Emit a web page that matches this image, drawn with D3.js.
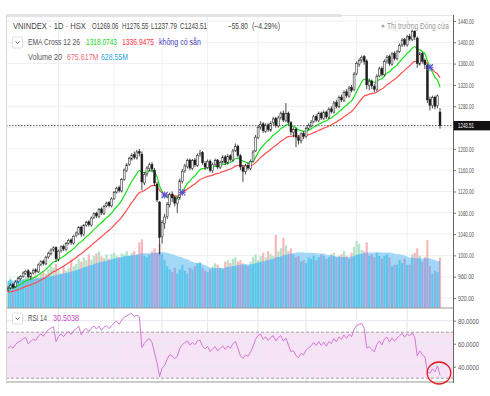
<!DOCTYPE html>
<html>
<head>
<meta charset="utf-8">
<script src="https://cdn.jsdelivr.net/npm/d3@7"></script>
<style>
html, body { margin: 0; padding: 0; background: #fff; }
svg { display: block; font-family: "Liberation Sans", Arial, sans-serif; }
</style>
</head>
<body>
<svg id="chart" width="490" height="396"></svg>
<script>
// daily bars, VNINDEX HSX
const openP = [935,939,945,941,951,956,961,966,971,959,
  967,973,969,983,989,984,997,1003,1011,1015,
  993,1009,1017,1011,1023,1029,1023,1037,1041,1053,
  1039,1057,1063,1057,1071,1079,1073,1087,1079,1093,
  1099,1093,1107,1119,1127,1121,1143,1159,1171,1181,
  1189,1183,1195,1190,1136,1153,1163,1171,1160,1134,
  1100,1036,1060,1073,1095,1115,1109,1097,1108,1139,
  1159,1167,1179,1163,1179,1169,1189,1193,1173,1165,
  1177,1159,1171,1179,1165,1175,1185,1173,1187,1179,
  1197,1205,1187,1165,1157,1169,1163,1177,1196,1221,
  1241,1247,1233,1245,1235,1249,1257,1243,1259,1267,
  1253,1267,1249,1231,1237,1221,1215,1229,1223,1239,
  1243,1251,1261,1253,1267,1257,1269,1259,1275,1269,
  1287,1279,1297,1291,1307,1299,1315,1311,1341,1359,
  1367,1373,1365,1319,1327,1317,1311,1337,1351,1339,
  1365,1373,1359,1379,1369,1383,1395,1405,1395,1411,
  1405,1421,1408,1359,1379,1366,1357,1293,1281,1297,
  1281,1269.06];
const highP = [942,947,948,953,960,963,970,973,974,969,
  975,976,985,991,992,999,1007,1013,1017,1017,
  1011,1019,1020,1025,1031,1032,1039,1045,1055,1056,
  1059,1065,1066,1073,1081,1082,1089,1090,1095,1101,
  1102,1109,1121,1129,1131,1145,1163,1173,1185,1192,
  1195,1198,1200,1195,1156,1168,1174,1175,1164,1138,
  1102,1066,1078,1100,1118,1120,1112,1110,1144,1162,
  1172,1182,1182,1181,1183,1191,1198,1196,1177,1180,
  1180,1174,1182,1181,1178,1188,1188,1190,1190,1200,
  1210,1208,1190,1170,1172,1174,1180,1198,1226,1244,
  1252,1250,1248,1248,1252,1260,1260,1262,1270,1272,
  1286,1270,1252,1240,1240,1226,1231,1233,1242,1248,
  1254,1264,1265,1270,1270,1272,1272,1278,1280,1290,
  1292,1300,1302,1310,1312,1318,1320,1344,1364,1370,
  1375,1376,1368,1332,1330,1322,1340,1354,1355,1368,
  1376,1377,1382,1383,1386,1398,1408,1408,1414,1416,
  1424,1422,1411,1382,1382,1370,1360,1298,1300,1300,
  1302,1276.55];
const lowP = [932,936,937,939,948,953,958,963,957,955,
  964,966,967,980,981,982,994,1000,1007,988,
  989,1005,1008,1008,1020,1020,1020,1034,1038,1035,
  1036,1054,1054,1054,1068,1070,1070,1076,1076,1090,
  1090,1090,1104,1116,1118,1118,1140,1156,1168,1178,
  1180,1180,1186,1122,1132,1148,1158,1156,1130,1100,
  1002,1022,1050,1068,1090,1100,1092,1080,1104,1135,
  1155,1163,1160,1160,1166,1166,1185,1170,1160,1162,
  1156,1155,1168,1162,1162,1172,1170,1170,1176,1176,
  1194,1184,1160,1138,1152,1160,1160,1174,1194,1218,
  1236,1230,1230,1232,1232,1245,1240,1240,1255,1250,
  1250,1246,1226,1222,1203,1208,1210,1218,1220,1235,
  1240,1248,1250,1250,1254,1254,1256,1256,1266,1266,
  1276,1276,1288,1288,1296,1296,1306,1308,1338,1354,
  1362,1358,1312,1310,1312,1306,1308,1334,1336,1336,
  1360,1356,1356,1366,1366,1380,1391,1392,1392,1402,
  1402,1404,1352,1356,1360,1350,1286,1272,1276,1274,
  1276,1237.79];
const closeP = [938,944,940,950,957,960,967,970,960,966,
  972,970,982,988,985,996,1004,1010,1014,994,
  1008,1016,1012,1022,1028,1024,1036,1042,1052,1040,
  1056,1062,1058,1070,1078,1074,1086,1080,1092,1098,
  1094,1106,1118,1126,1122,1142,1160,1170,1182,1188,
  1184,1194,1192,1138,1152,1164,1170,1162,1136,1104,
  1034,1062,1072,1096,1114,1108,1098,1106,1140,1158,
  1168,1178,1164,1178,1170,1188,1192,1174,1166,1176,
  1160,1170,1178,1166,1174,1184,1174,1186,1180,1196,
  1204,1188,1166,1158,1168,1164,1176,1194,1222,1240,
  1246,1234,1244,1236,1248,1256,1244,1258,1266,1254,
  1266,1250,1232,1236,1222,1216,1228,1224,1238,1244,
  1250,1260,1254,1266,1258,1268,1260,1274,1270,1286,
  1280,1296,1292,1306,1300,1314,1310,1340,1360,1366,
  1372,1364,1320,1326,1318,1312,1336,1350,1340,1364,
  1372,1360,1378,1370,1382,1394,1404,1396,1410,1406,
  1420,1410,1360,1378,1365,1358,1292,1282,1296,1280,
  1299.31,1243.51];
// volume in millions
const volumeM = [360,400,340,380,420,360,390,430,410,400,
  420,450,410,470,500,460,520,560,540,590,
  510,470,560,500,540,650,560,590,660,620,
  680,640,720,650,700,730,760,690,670,720,
  660,720,740,700,680,730,720,760,700,740,
  760,720,880,920,700,680,720,760,800,740,
  860,720,640,560,520,480,540,460,520,580,
  500,460,540,520,560,600,620,540,500,480,
  520,560,600,580,540,520,620,640,600,660,
  680,620,640,600,580,560,620,680,720,640,
  700,740,680,760,720,700,980,760,800,940,
  840,760,800,720,680,700,620,640,600,680,
  660,700,640,680,720,700,660,680,720,740,
  680,700,720,760,700,660,740,820,900,860,
  780,760,880,700,720,680,740,700,660,700,
  720,680,560,580,580,640,600,660,580,580,
  720,740,800,700,620,680,910,560,460,500,
  480,675.617];

const priceTicks = [920,960,1000,1040,1080,1120,1160,1200,1240,1280,1320,1360,1400,1440];
const rsiTicks = [80,60,40];
const rsiBand = [30,70];
const gridBars = [20,42,61,79,99,118,138,158];
const emaSeed = [938, 931];   // ema12 / ema26 on first bar
const rsiSeed = [6.0, 4.7];   // avg gain / avg loss on first bar
const lastClose = 1243.51;

const svg = d3.select('#chart');
const n = closeP.length;
const idx = d3.range(n);

const L = 6, R = 453, mainTop = 15, mainBot = 308, rsiBot = 382;

const x = d3.scaleLinear().domain([0, n - 1]).range([8, 440]);
const y = d3.scaleLinear().domain([920, 1440]).range([298, 21]);
const yv = d3.scaleLinear().domain([0, 1000]).range([mainBot, mainBot - 74.6]);
const yr = d3.scaleLinear().domain([30, 70]).range([378.2, 332.2]);
const step = x(1) - x(0);

// indicators
function ema(src, period, seed) {
  const k = 2 / (period + 1);
  const out = [];
  src.forEach((v, i) => out.push(i === 0 ? seed : v * k + out[i - 1] * (1 - k)));
  return out;
}
function rsi(src, period, g0, l0) {
  let ag = g0, al = l0;
  const out = [100 - 100 / (1 + ag / al)];
  for (let i = 1; i < src.length; i++) {
    const d = src[i] - src[i - 1];
    ag = (ag * (period - 1) + Math.max(d, 0)) / period;
    al = (al * (period - 1) + Math.max(-d, 0)) / period;
    out.push(100 - 100 / (1 + ag / al));
  }
  return out;
}
const ema12 = ema(closeP, 12, emaSeed[0]);
const ema26 = ema(closeP, 26, emaSeed[1]);
const rsi14 = rsi(closeP, 14, rsiSeed[0], rsiSeed[1]);
const volMa = volumeM.map((v, i) => d3.mean(volumeM.slice(Math.max(0, i - 19), i + 1)));

const defs = svg.append('defs');
defs.append('clipPath').attr('id', 'mainClip').append('rect')
  .attr('x', L).attr('y', mainTop).attr('width', R - L).attr('height', mainBot - mainTop);
defs.append('clipPath').attr('id', 'rsiClip').append('rect')
  .attr('x', L).attr('y', mainBot).attr('width', R - L).attr('height', rsiBot - mainBot);

// top strip
svg.append('line').attr('x1', L).attr('x2', R).attr('y1', 15.5).attr('y2', 15.5).attr('stroke', '#e6e6e6');
svg.append('rect').attr('x', L).attr('y', 14).attr('width', 336).attr('height', 3).attr('fill', '#e4e4e4');

// grid
const grid = svg.append('g');
grid.selectAll('.hg').data(priceTicks).join('line')
  .attr('x1', L).attr('x2', R).attr('y1', d => y(d)).attr('y2', d => y(d))
  .attr('stroke', '#ebf0f5').attr('stroke-width', 1);
grid.selectAll('.vg').data(gridBars).join('line')
  .attr('x1', d => x(d)).attr('x2', d => x(d)).attr('y1', mainTop + 2).attr('y2', rsiBot)
  .attr('stroke', '#ebf0f5').attr('stroke-width', 1);

// volume
const vg = svg.append('g').attr('clip-path', 'url(#mainClip)');
const bw = step * 0.86;
const isUp = i => closeP[i] >= openP[i];
vg.selectAll('.vb').data(idx).join('rect')
  .attr('x', i => x(i) - bw / 2).attr('width', bw)
  .attr('y', i => yv(volumeM[i])).attr('height', i => mainBot - yv(volumeM[i]))
  .attr('fill', i => isUp(i) ? '#b4e2c6' : '#f8b6ba');
const volArea = d3.area().x(i => x(i)).y0(mainBot).y1(i => yv(volMa[i])).curve(d3.curveMonotoneX);
defs.append('clipPath').attr('id', 'maClip').append('path').attr('d', volArea(idx));
vg.append('path').attr('d', volArea(idx)).attr('fill', '#a2d7f6');
vg.append('g').attr('clip-path', 'url(#maClip)').selectAll('rect').data(idx).join('rect')
  .attr('x', i => x(i) - bw / 2).attr('width', bw)
  .attr('y', i => yv(volumeM[i])).attr('height', i => mainBot - yv(volumeM[i]))
  .attr('fill', i => isUp(i) ? '#5cc6ea' : '#a3a8dc');

// EMA lines
const pg = svg.append('g').attr('clip-path', 'url(#mainClip)');
const line = d3.line().x(i => x(i)).curve(d3.curveMonotoneX);
pg.append('path').attr('d', line.y(i => y(ema26[i]))(idx))
  .attr('fill', 'none').attr('stroke', '#ff4d4d').attr('stroke-width', 1.2);
pg.append('path').attr('d', line.y(i => y(ema12[i]))(idx))
  .attr('fill', 'none').attr('stroke', '#16e016').attr('stroke-width', 1.2);

// candles
const cg = pg.append('g');
cg.selectAll('.wick').data(idx).join('line')
  .attr('x1', i => x(i)).attr('x2', i => x(i))
  .attr('y1', i => y(highP[i])).attr('y2', i => y(lowP[i]))
  .attr('stroke', '#1c1c1c').attr('stroke-width', 0.8);
cg.selectAll('.body').data(idx).join('rect')
  .attr('x', i => x(i) - 0.95).attr('width', 1.9)
  .attr('y', i => y(Math.max(openP[i], closeP[i])))
  .attr('height', i => Math.max(0.8, Math.abs(y(openP[i]) - y(closeP[i]))))
  .attr('fill', i => isUp(i) ? '#f0f0f0' : '#1c1c1c')
  .attr('stroke', '#1c1c1c').attr('stroke-width', 0.5);

// EMA cross markers
const crosses = idx.filter(i => i > 0 && Math.sign(ema12[i] - ema26[i]) !== Math.sign(ema12[i - 1] - ema26[i - 1]));
const mk = pg.selectAll('.cross').data(crosses).join('g')
  .attr('transform', i => `translate(${x(i)},${y((ema12[i] + ema26[i]) / 2)})`)
  .attr('stroke', '#5b4fd0').attr('stroke-width', 1.3);
mk.append('path').attr('d', 'M-3,-3L3,3M-3,3L3,-3');
mk.append('path').attr('d', 'M0,-3.5V3.5M-3.5,0H3.5').attr('stroke-width', 0.9);

// last price line
svg.append('line').attr('x1', L).attr('x2', R).attr('y1', y(lastClose)).attr('y2', y(lastClose))
  .attr('stroke', '#222').attr('stroke-width', 0.8).attr('stroke-dasharray', '1.5,1.5');

// RSI pane
const rg = svg.append('g').attr('clip-path', 'url(#rsiClip)');
rg.append('rect').attr('x', L).attr('width', R - L)
  .attr('y', yr(rsiBand[1])).attr('height', yr(rsiBand[0]) - yr(rsiBand[1]))
  .attr('fill', '#f6e3f5');
rg.selectAll('.rg').data(rsiTicks).join('line')
  .attr('x1', L).attr('x2', R).attr('y1', d => yr(d)).attr('y2', d => yr(d))
  .attr('stroke', '#e9e6f2');
rg.selectAll('.vg2').data(gridBars).join('line')
  .attr('x1', d => x(d)).attr('x2', d => x(d)).attr('y1', mainBot).attr('y2', rsiBot)
  .attr('stroke', '#ebeaf3');
rg.selectAll('.band').data(rsiBand).join('line')
  .attr('x1', L).attr('x2', R).attr('y1', d => yr(d)).attr('y2', d => yr(d))
  .attr('stroke', '#8a8a8a').attr('stroke-width', 0.8).attr('stroke-dasharray', '3,2');
rg.append('path').attr('d', d3.line().x(i => x(i)).y(i => yr(rsi14[i]))(idx))
  .attr('fill', 'none').attr('stroke', '#d27ad2').attr('stroke-width', 1);

// frame
svg.append('line').attr('x1', L).attr('x2', R).attr('y1', mainBot).attr('y2', mainBot).attr('stroke', '#9a9a9a');
svg.append('line').attr('x1', L).attr('x2', R).attr('y1', rsiBot).attr('y2', rsiBot).attr('stroke', '#9a9a9a');
svg.append('line').attr('x1', L + 0.5).attr('x2', L + 0.5).attr('y1', mainTop).attr('y2', rsiBot).attr('stroke', '#d6d6d6');

// squeeze a text horizontally to a given width (the screenshot is narrow)
function fit(sel, width, x0, y0) {
  sel.each(function () {
    const w = this.getComputedTextLength();
    d3.select(this).attr('x', 0).attr('y', 0)
      .attr('transform', `translate(${x0},${y0}) scale(${width / w},1)`);
  });
}

// axes (the label under the last-price tag is hidden, as in the reference)
const axisTicks = priceTicks.filter(d => Math.abs(y(d) - y(lastClose)) > 8);
const pAxis = svg.append('g').attr('transform', `translate(${R},0)`)
  .call(d3.axisRight(y).tickValues(axisTicks).tickFormat(d3.format('.2f')).tickSize(3).tickPadding(2));
const rAxis = svg.append('g').attr('transform', `translate(${R},0)`)
  .call(d3.axisRight(yr).tickValues(rsiTicks).tickFormat(d3.format('.4f')).tickSize(3).tickPadding(2));
[pAxis, rAxis].forEach(a => {
  a.select('.domain').remove();
  a.selectAll('line').attr('stroke', '#777');
  a.selectAll('text').attr('font-size', 6.5).attr('fill', '#555').attr('dy', null)
    .attr('font-family', '"Liberation Sans", Arial, sans-serif');
});
fit(pAxis.selectAll('text'), 16, 5, 2.3);
fit(rAxis.selectAll('text'), 21, 5, 2.3);
svg.append('line').attr('x1', R + 0.5).attr('x2', R + 0.5).attr('y1', mainTop).attr('y2', rsiBot + 1).attr('stroke', '#666');

// last price tag
svg.append('rect').attr('x', R + 0.5).attr('y', y(lastClose) - 4.7).attr('width', 490 - R).attr('height', 9.4).attr('fill', '#111');
fit(svg.append('text').attr('font-size', 6.5).attr('fill', '#fff').text(d3.format('.2f')(lastClose)),
  16, 458, y(lastClose) + 2.4);

// legend
function label(x0, y0, s, color, len, size) {
  fit(svg.append('text').attr('font-size', size || 8.5).attr('fill', color).text(s), len, x0, y0);
}
function chevron(x0, y0) {
  svg.append('rect').attr('x', x0).attr('y', y0).attr('width', 10).attr('height', 11)
    .attr('fill', '#fff').attr('stroke', '#d8d8d8').attr('stroke-width', 0.8).attr('rx', 1);
  svg.append('path').attr('d', `M${x0 + 3},${y0 + 4.5}L${x0 + 5},${y0 + 6.5}L${x0 + 7},${y0 + 4.5}`)
    .attr('fill', 'none').attr('stroke', '#555').attr('stroke-width', 0.9);
}
label(13, 29.3, 'VNINDEX · 1D · HSX', '#444', 73);
label(92, 29.3, 'O1269.06', '#444', 26.5);
label(122, 29.3, 'H1276.55', '#444', 26.5);
label(151, 29.3, 'L1237.79', '#444', 26);
label(180, 29.3, 'C1243.51', '#444', 27);
label(228, 29.3, '−55.80', '#444', 20);
label(252, 29.3, '(−4.29%)', '#444', 28);
svg.append('circle').attr('cx', 383).attr('cy', 26).attr('r', 1.6).attr('fill', '#aaa');
label(387, 29.3, 'Thị trường Đóng cửa', '#999', 62);

chevron(12.5, 37);
label(28, 45, 'EMA Cross 12 26', '#555', 52);
label(86, 45, '1318.0743', '#1fd31f', 31);
label(122, 45, '1336.9475', '#ff3344', 32);
label(159, 45, 'không có sẵn', '#4b3fb8', 42);
label(28, 60, 'Volume 20', '#555', 34);
label(67, 60, '675.617M', '#f36b7a', 31.5);
label(101, 60, '628.55M', '#2fa3e6', 27);

chevron(12.5, 313);
label(28, 321, 'RSI 14', '#555', 19);
label(53, 321, '30.5038', '#c548c5', 26);

// hand-drawn circle
svg.append('ellipse').attr('cx', 439).attr('cy', 373).attr('rx', 11.8).attr('ry', 11)
  .attr('fill', 'none').attr('stroke', '#e8141c').attr('stroke-width', 1.3);
</script>
</body>
</html>
